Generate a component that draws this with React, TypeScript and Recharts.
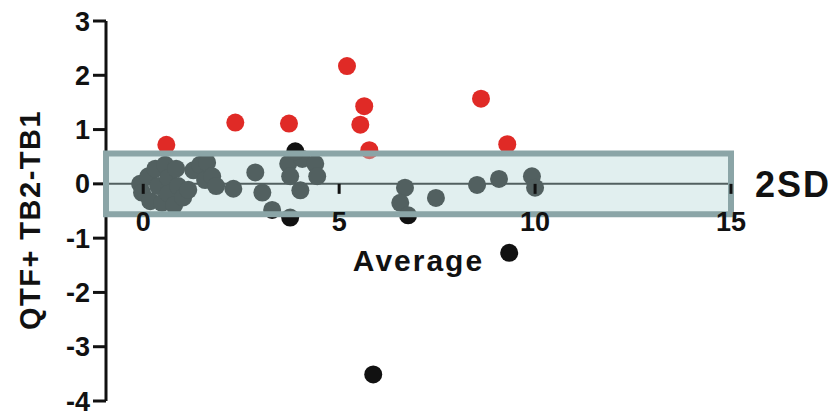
import { ScatterChart, Scatter, XAxis, YAxis, ReferenceArea, ReferenceLine, Label } from 'recharts';

// QTF+ Bland-Altman style plot: TB2-TB1 difference vs average
const redPoints = [
	{ x: 0.59, y: 0.72 },
	{ x: 2.35, y: 1.13 },
	{ x: 3.72, y: 1.11 },
	{ x: 5.2, y: 2.17 },
	{ x: 5.64, y: 1.43 },
	{ x: 5.54, y: 1.09 },
	{ x: 5.77, y: 0.62 },
	{ x: 8.62, y: 1.57 },
	{ x: 9.29, y: 0.73 },
];

const blackPoints = [
	{ x: -0.08, y: 0.0 },
	{ x: -0.03, y: -0.16 },
	{ x: 0.13, y: 0.14 },
	{ x: 0.18, y: -0.32 },
	{ x: 0.31, y: 0.28 },
	{ x: 0.38, y: -0.04 },
	{ x: 0.48, y: -0.35 },
	{ x: 0.56, y: 0.35 },
	{ x: 0.64, y: 0.11 },
	{ x: 0.64, y: -0.18 },
	{ x: 0.79, y: -0.39 },
	{ x: 0.84, y: 0.28 },
	{ x: 0.89, y: -0.04 },
	{ x: 1.02, y: -0.25 },
	{ x: 1.15, y: -0.11 },
	{ x: 1.28, y: 0.25 },
	{ x: 1.45, y: 0.35 },
	{ x: 1.63, y: 0.39 },
	{ x: 1.58, y: 0.07 },
	{ x: 1.76, y: 0.14 },
	{ x: 1.86, y: -0.04 },
	{ x: 2.3, y: -0.09 },
	{ x: 2.86, y: 0.21 },
	{ x: 3.04, y: -0.16 },
	{ x: 3.29, y: -0.48 },
	{ x: 3.7, y: 0.37 },
	{ x: 3.75, y: 0.14 },
	{ x: 4.01, y: -0.12 },
	{ x: 4.06, y: 0.46 },
	{ x: 4.39, y: 0.37 },
	{ x: 4.44, y: 0.14 },
	{ x: 6.68, y: -0.07 },
	{ x: 6.56, y: -0.35 },
	{ x: 7.47, y: -0.26 },
	{ x: 8.52, y: -0.02 },
	{ x: 9.08, y: 0.09 },
	{ x: 9.92, y: 0.14 },
	{ x: 10.0, y: -0.07 },
	{ x: 3.88, y: 0.6 },
	{ x: 3.75, y: -0.62 },
	{ x: 6.76, y: -0.58 },
	{ x: 9.34, y: -1.27 },
	{ x: 5.87, y: -3.51 },
];

const xTicks = [0, 5, 10, 15];
const yTicks = [-4, -3, -2, -1, 0, 1, 2, 3];
const sdLimit = 0.56;

const W = 838;
const H = 417;
const X_AXIS_H = 1;
const MARGIN = { top: 21, right: 107, bottom: 15, left: 0 };
const X_MIN = -0.95;
const X_MAX = 15;
const Y_MIN = -4;
const Y_MAX = 3;
const plotBottom = H - MARGIN.bottom - X_AXIS_H;
const zeroY = MARGIN.top + ((Y_MAX - 0) / (Y_MAX - Y_MIN)) * (plotBottom - MARGIN.top);

const font = 'Liberation Sans, Arial, sans-serif';
const ink = '#111111';

function XTick(props: any) {
	const { x, payload } = props;
	return (
		<g>
			<line x1={x} x2={x} y1={zeroY} y2={zeroY + 10} stroke={ink} strokeWidth={3} />
			<text x={x} y={zeroY + 47} textAnchor="middle" fontFamily={font} fontSize={27} fontWeight="bold" fill={ink}>
				{payload.value}
			</text>
		</g>
	);
}

const dot = (color: string) => (p: any) => <circle cx={p.cx} cy={p.cy} r={9} fill={color} />;

export default function App() {
	return (
		<div style={{ position: 'absolute', left: 0, top: 0, background: '#fff' }}>
			<ScatterChart width={W} height={H} margin={MARGIN}>
				<XAxis
					type="number"
					dataKey="x"
					domain={[X_MIN, X_MAX]}
					ticks={xTicks}
					height={X_AXIS_H}
					axisLine={false}
					tickLine={false}
					tick={(p: any) => <XTick {...p} />}
					interval={0}
				>
					<Label
						content={() => (
							<text
								x={(106 + 731) / 2}
								y={zeroY + 87}
								textAnchor="middle"
								fontFamily={font}
								fontSize={30}
								fontWeight="bold"
								letterSpacing={2}
								fill={ink}
							>
								Average
							</text>
						)}
					/>
				</XAxis>
				<YAxis
					type="number"
					dataKey="y"
					domain={[Y_MIN, Y_MAX]}
					ticks={yTicks}
					width={106}
					interval={0}
					tickSize={13}
					tickMargin={3}
					axisLine={{ stroke: ink, strokeWidth: 3 }}
					tickLine={{ stroke: ink, strokeWidth: 3 }}
					tick={{ fontFamily: font, fontSize: 27, fontWeight: 'bold', fill: ink }}
				>
					<Label
						content={() => (
							<text
								transform={`translate(30, 220) rotate(-90)`}
								textAnchor="middle"
								dominantBaseline="central"
								fontFamily={font}
								fontSize={29}
								fontWeight="bold"
								letterSpacing={1.5}
								fill={ink}
							>
								QTF+ TB2-TB1
							</text>
						)}
					/>
				</YAxis>
				<ReferenceLine y={0} stroke={ink} strokeWidth={2} zIndex={550} />
				<Scatter data={blackPoints} fill={ink} shape={dot(ink)} isAnimationActive={false} />
				<Scatter data={redPoints} fill="#e02a26" shape={dot('#e02a26')} isAnimationActive={false} />
				<ReferenceArea
					x1={X_MIN}
					x2={15}
					y1={-sdLimit}
					y2={sdLimit}
					fill="#b3d6d8"
					fillOpacity={0.4}
					stroke="#8ba5a7"
					strokeWidth={6}
					zIndex={700}
					ifOverflow="visible"
					label={{
						value: '2SD',
						position: 'right',
						offset: 24,
						fontFamily: font,
						fontSize: 36,
						fontWeight: 'bold',
						letterSpacing: 2,
						fill: ink,
					}}
				/>
			</ScatterChart>
		</div>
	);
}
